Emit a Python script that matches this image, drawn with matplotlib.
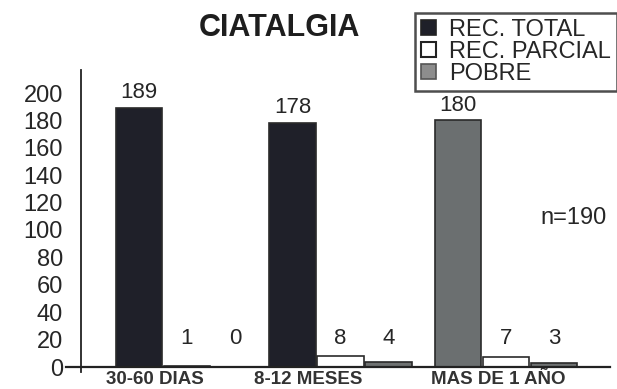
import matplotlib
matplotlib.use("Agg")
import matplotlib.pyplot as plt
from matplotlib.patches import Patch
from matplotlib.lines import Line2D

# ---- data ----
categories = ["30-60 DIAS", "8-12 MESES", "MAS DE 1 AÑO"]
series_names = ["REC. TOTAL", "REC. PARCIAL", "POBRE"]
rec_total = [189, 178, 180]
rec_parcial = [1, 8, 7]
pobre = [0, 4, 3]
y_ticks = [0, 20, 40, 60, 80, 100, 120, 140, 160, 180, 200]
sample_note = "n=190"

# ---- layout / style ----
W, H, DPI = 617, 389, 100
group_start = [0.0, 3.2, 6.65]          # centre of first bar in each group
label_pos = [0.33, 3.52, 7.48]          # category label centres
bar_w = 1.0
dark = "#1f2029"
grey_total = ["#1f2029", "#1f2029", "#6b6f70"]
grey = "#6e7171"
legend_grey = "#8d8d8d"
txt = "#262626"

plt.rcParams["font.family"] = ["Liberation Sans", "DejaVu Sans"]

fig = plt.figure(figsize=(W / DPI, H / DPI), dpi=DPI)
ax_l, ax_r, ax_t, ax_b = 81, 610, 70, 367
ax = fig.add_axes([ax_l / W, (H - ax_b) / H, (ax_r - ax_l) / W, (ax_b - ax_t) / H])

xmin = -1.208
xmax = xmin + (ax_r - ax_l) / 48.0
ax.set_xlim(xmin, xmax)
ax.set_ylim(0, (ax_b - ax_t) / 1.37)

for i in range(len(categories)):
    x0 = group_start[i]
    vals = [rec_total[i], rec_parcial[i], pobre[i]]
    faces = [grey_total[i], "white", grey]
    for j, (v, fc) in enumerate(zip(vals, faces)):
        x = x0 + j * bar_w
        if v > 0:
            ax.bar(x, v, width=bar_w * 0.97, color=fc, edgecolor="#2a2a2a",
                   linewidth=1.2, zorder=2)
        ax.annotate(str(v), xy=(x, max(v, 10)), xytext=(0, 11),
                    textcoords="offset points", ha="center", va="center",
                    fontsize=16, color=txt)

# axes lines (y axis runs a little below, x axis a little left)
ax.add_line(Line2D([0, 0], [-5 / (ax_b - ax_t), 1], transform=ax.transAxes,
                   color="#222222", lw=1.3, clip_on=False))
ax.add_line(Line2D([-15 / (ax_r - ax_l), 1], [0, 0], transform=ax.transAxes,
                   color="#222222", lw=1.6, clip_on=False))
for s in ax.spines.values():
    s.set_visible(False)

ax.set_yticks(y_ticks)
ax.set_yticklabels([str(t) for t in y_ticks], fontsize=17, color=txt)
ax.set_xticks(label_pos)
ax.set_xticklabels(categories, fontsize=13.5, fontweight="bold", color="#333333")
ax.tick_params(axis="y", length=0, pad=13)
ax.tick_params(axis="x", length=0, pad=3)

# title
fig.text(279 / W, 1 - 28 / H, "CIATALGIA", ha="center", va="center",
         fontsize=22, fontweight="bold", color="#1e1e1e")

# note
fig.text(540 / W, 1 - 218 / H, sample_note, ha="left", va="center",
         fontsize=17, color=txt)

# legend
handles = [Patch(facecolor=dark, edgecolor="#222222", lw=1.2),
           Patch(facecolor="white", edgecolor="#222222", lw=1.5),
           Patch(facecolor=legend_grey, edgecolor="#555555", lw=1.2)]
leg = fig.legend(handles, series_names, loc="upper left",
                 bbox_to_anchor=(415 / W, 1 - 13 / H), bbox_transform=fig.transFigure,
                 fontsize=17, frameon=True, fancybox=False, borderaxespad=0,
                 borderpad=0.25, handlelength=0.65, handleheight=0.65,
                 handletextpad=0.55, labelspacing=0.0)
leg.get_frame().set_edgecolor("#222222")
leg.get_frame().set_linewidth(1.8)
for t in leg.get_texts():
    t.set_color(txt)

fig.savefig("out.png", dpi=DPI)
